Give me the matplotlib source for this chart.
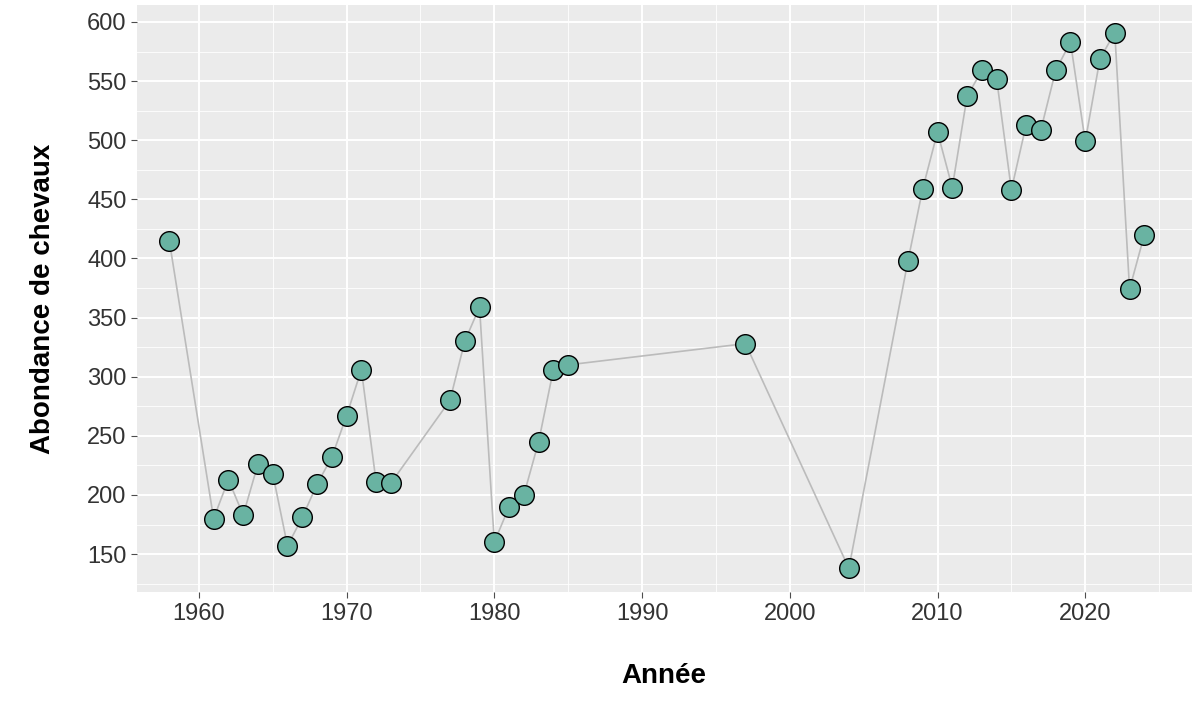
import matplotlib
matplotlib.use("Agg")
import matplotlib.pyplot as plt
from matplotlib.ticker import MultipleLocator

years = [1958,1961,1962,1963,1964,1965,1966,1967,1968,1969,1970,1971,1972,1973,1977,1978,1979,1980,1981,1982,1983,1984,1985,1997,2004,2008,2009,2010,2011,2012,2013,2014,2015,2016,2017,2018,2019,2020,2021,2022,2023,2024]
values = [415,180,213,183,226,218,157,181,209,232,267,306,211,210,280,330,359,160,190,200,245,306,310,328,138,398,459,507,460,537,559,552,458,513,509,559,583,499,569,591,374,420]

plt.rcParams['font.family'] = ['Arial', 'Liberation Sans', 'DejaVu Sans']
fig = plt.figure(figsize=(12, 7.1), dpi=100)
ax = fig.add_axes([0.114, 0.166, 0.879, 0.827])
ax.set_facecolor('#EBEBEB')
for s in ax.spines.values():
    s.set_visible(False)
ax.plot(years, values, color='#BBBBBB', lw=1.2, zorder=2)
ax.scatter(years, values, s=200, facecolor='#69B3A2', edgecolor='black', linewidth=1, zorder=3)
ax.set_xlim(1955.8, 2027.2)
ax.set_ylim(117.8, 614.4)
ax.xaxis.set_major_locator(MultipleLocator(10))
ax.xaxis.set_minor_locator(MultipleLocator(5))
ax.yaxis.set_major_locator(MultipleLocator(50))
ax.yaxis.set_minor_locator(MultipleLocator(25))
ax.grid(which='major', color='white', lw=1.4, zorder=0)
ax.grid(which='minor', color='white', lw=0.6, zorder=0)
ax.set_axisbelow(True)
ax.tick_params(which='major', labelsize=17, colors='#4D4D4D', length=4, labelcolor='#333333')
ax.tick_params(which='minor', length=0)
ax.set_xlabel('Année', fontsize=20, fontweight='bold', labelpad=28)
ax.set_ylabel('Abondance de chevaux', fontsize=20, fontweight='bold', labelpad=22)
fig.savefig('out.png', dpi=100)
